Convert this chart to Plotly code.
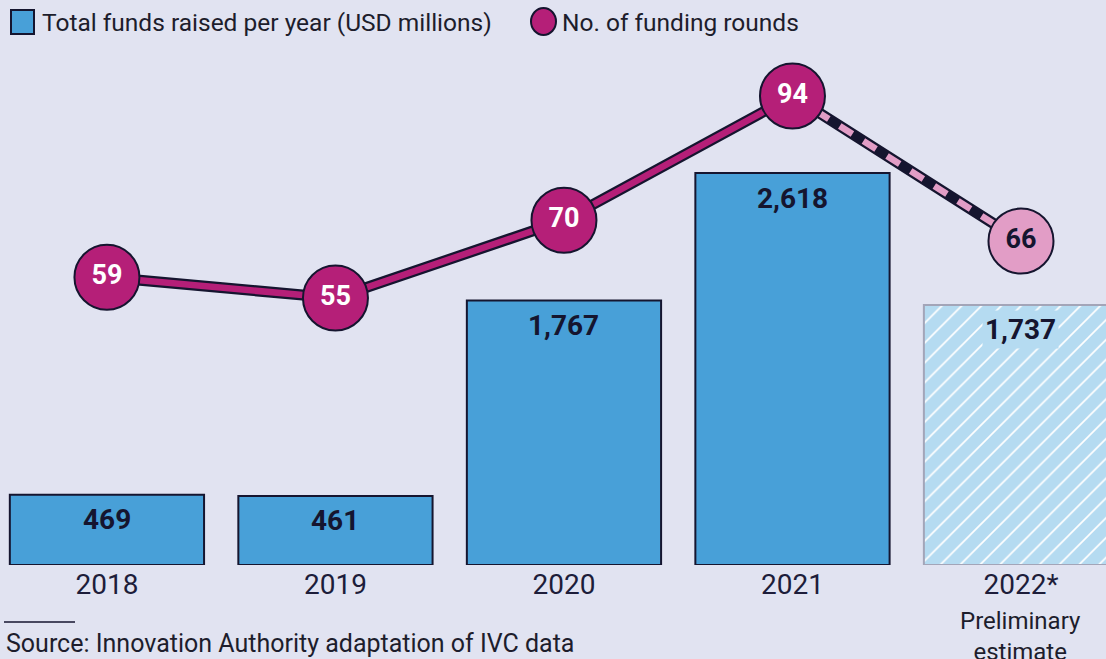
import plotly.graph_objects as go

# Funding data
years = ["2018", "2019", "2020", "2021", "2022*"]
funds_musd = [469, 461, 1767, 2618, 1737]
funds_labels = ["469", "461", "1,767", "2,618", "1,737"]
rounds = [59, 55, 70, 94, 66]

BG = "#e1e3f1"
BLUE = "#48a0d8"
LIGHT_BLUE = "#b5dbf1"
MAGENTA = "#b51f78"
PINK = "#e29dc6"
DARK = "#15152f"
TEXT = "#1d1d2c"
FONT = "Roboto"

W, H = 1106, 659
L, R, T, B = 0, 0, 40, 94
PH = H - T - B


def px_x(p):
    return p / W


def px_y(p):
    return (H - B - p) / PH


fig = go.Figure()

# Confirmed years: solid bars
fig.add_trace(go.Bar(
    x=years[:4], y=funds_musd[:4], width=0.85,
    marker=dict(color=BLUE, line=dict(color=DARK, width=2)),
    hoverinfo="skip", showlegend=False,
))
# Preliminary estimate: hatched bar
fig.add_trace(go.Bar(
    x=years[4:], y=funds_musd[4:], width=0.85,
    marker=dict(
        color="#ffffff",
        line=dict(color="#a3a5b8", width=2),
        pattern=dict(shape="/", fillmode="overlay", fgcolor="#ffffff",
                     fgopacity=1, bgcolor=LIGHT_BLUE, size=14,
                     solidity=0.12),
    ),
    hoverinfo="skip", showlegend=False,
))

# Line outline, then coloured line segments on top
fig.add_trace(go.Scatter(
    x=years, y=rounds, yaxis="y2", mode="lines",
    line=dict(color=DARK, width=11), hoverinfo="skip", showlegend=False,
    cliponaxis=False,
))
fig.add_trace(go.Scatter(
    x=years[:4], y=rounds[:4], yaxis="y2", mode="lines",
    line=dict(color=MAGENTA, width=6.5), hoverinfo="skip", showlegend=False,
    cliponaxis=False,
))
fig.add_trace(go.Scatter(
    x=years[3:], y=rounds[3:], yaxis="y2", mode="lines",
    line=dict(color=PINK, width=6.5, dash="15px,13px"), hoverinfo="skip",
    showlegend=False, cliponaxis=False,
))
fig.add_trace(go.Scatter(
    x=years, y=rounds, yaxis="y2", mode="markers+text",
    text=[str(v) for v in rounds], textposition="middle center",
    textfont=dict(family=FONT, size=27, color=["white"] * 4 + [DARK],
                  weight="bold"),
    marker=dict(size=65, color=[MAGENTA] * 4 + [PINK],
                line=dict(color=DARK, width=2)),
    hoverinfo="skip", showlegend=False, cliponaxis=False,
))

# Value labels just inside the top of each bar (x given as category index)
annotations = []
for i, (yr, val, lab) in enumerate(zip(years, funds_musd, funds_labels)):
    est = yr.endswith("*")
    annotations.append(dict(
        x=i, y=val, xref="x", yref="y", text=lab, showarrow=False,
        xanchor="center", yanchor="middle", yshift=-25,
        font=dict(family=FONT, size=28, color=DARK, weight="bold"),
        bgcolor=LIGHT_BLUE if est else "rgba(0,0,0,0)", borderpad=2,
    ))

annotations += [
    dict(x=4, y=px_y(636), xref="x", yref="paper",
         text="Preliminary<br>estimate", showarrow=False,
         xanchor="center", yanchor="middle",
         font=dict(family=FONT, size=24, color=TEXT)),
    dict(x=px_x(4), y=px_y(643), xref="paper", yref="paper",
         xanchor="left", yanchor="middle",
         text="Source: Innovation Authority adaptation of IVC data",
         showarrow=False, font=dict(family=FONT, size=25, color=TEXT)),
    dict(x=px_x(40), y=px_y(22), xref="paper", yref="paper",
         xanchor="left", yanchor="middle",
         text="Total funds raised per year (USD millions)", showarrow=False,
         font=dict(family=FONT, size=24.5, color=TEXT)),
    dict(x=px_x(560), y=px_y(22), xref="paper", yref="paper",
         xanchor="left", yanchor="middle",
         text="No. of funding rounds", showarrow=False,
         font=dict(family=FONT, size=24.5, color=TEXT)),
]

shapes = [
    # legend swatches
    dict(type="rect", xref="paper", yref="paper",
         x0=px_x(11), x1=px_x(34), y0=px_y(34), y1=px_y(10),
         fillcolor=BLUE, line=dict(color=DARK, width=2)),
    dict(type="circle", xref="paper", yref="paper",
         x0=px_x(531), x1=px_x(556), y0=px_y(35), y1=px_y(8),
         fillcolor=MAGENTA, line=dict(color=DARK, width=2)),
    # rule above the source note
    dict(type="line", xref="paper", yref="paper",
         x0=px_x(4), x1=px_x(75), y0=px_y(622), y1=px_y(622),
         line=dict(color=DARK, width=1.5)),
]

fig.update_layout(
    width=W, height=H,
    margin=dict(l=L, r=R, t=T, b=B),
    paper_bgcolor=BG, plot_bgcolor=BG,
    showlegend=False,
    barmode="overlay",
    xaxis=dict(type="category", categoryorder="array", categoryarray=years,
               range=[-0.468, 4.372], showgrid=False, zeroline=False,
               showline=False, ticks="",
               tickfont=dict(family=FONT, size=28, color="#1d1d3a")),
    yaxis=dict(range=[0, 3507], visible=False, fixedrange=True),
    yaxis2=dict(range=[3.47, 104.8], overlaying="y", visible=False),
    annotations=annotations,
    shapes=shapes,
)

fig.write_html("out.html")
